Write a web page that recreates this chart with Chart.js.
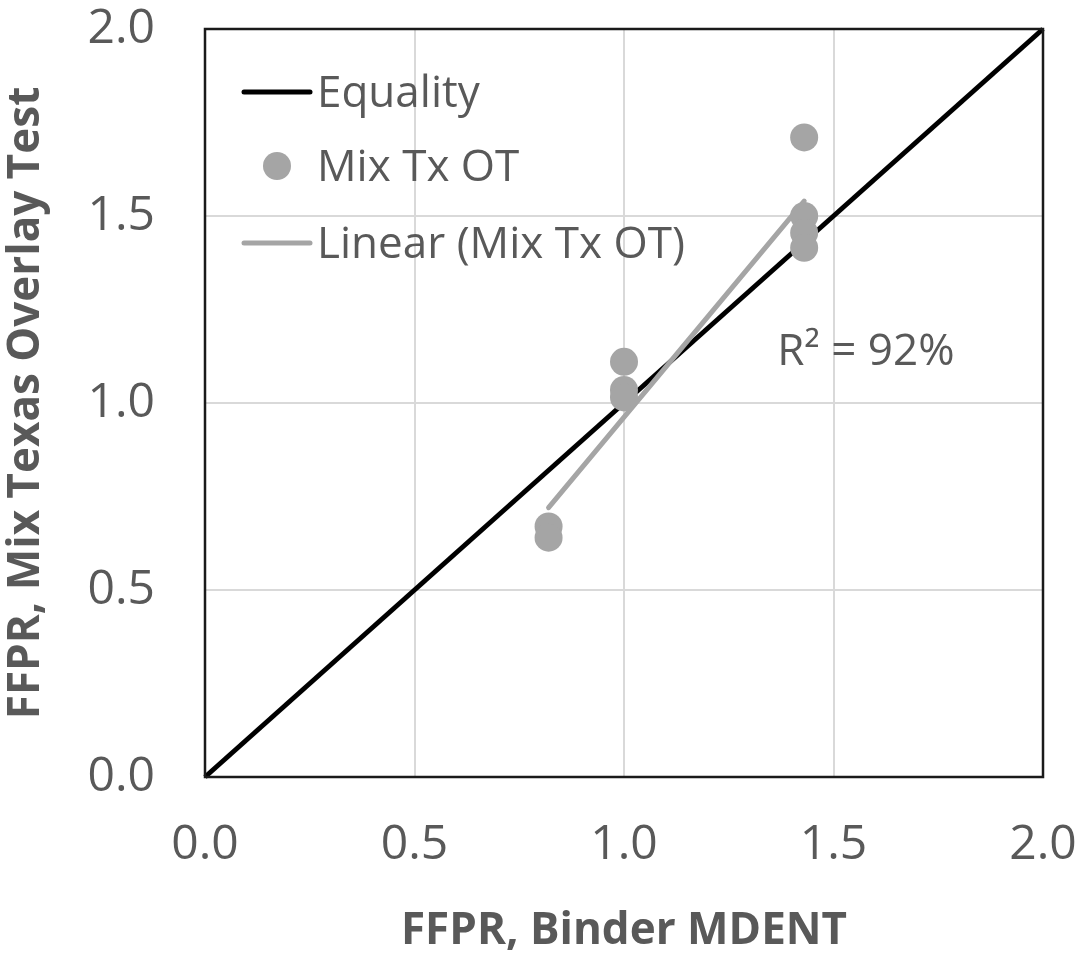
<!DOCTYPE html>
<html>
<head>
<meta charset="utf-8">
<script src="https://cdn.jsdelivr.net/npm/chart.js@4.4.1/dist/chart.umd.min.js"></script>
<style>
  body { margin: 0; background: #fff; }
  #contenedor { width: 1081px; height: 958px; }
</style>
</head>
<body>
<div id="contenedor"><canvas id="grafica"></canvas></div>
<script>
// Datos
const igualdadX = [0, 2];
const igualdadY = [0, 2];

const mezclaX = [0.82, 0.82, 1.0, 1.0, 1.0, 1.43, 1.43, 1.43, 1.43];
const mezclaY = [0.67, 0.64, 1.11, 1.035, 1.015, 1.71, 1.50, 1.455, 1.415];

const tendenciaX = [0.82, 1.43];
const tendenciaY = [0.72, 1.54];

const marcas = [0, 0.5, 1.0, 1.5, 2.0];
const textoR2 = 'R² = 92%';

const fuente = '"Open Sans", "Noto Sans", sans-serif';
const gris = '#595959';

function pares(xs, ys) {
  return xs.map((x, i) => ({ x: x, y: ys[i] }));
}

// marco negro alrededor del area del grafico
const marco = {
  id: 'marco',
  afterDatasetsDraw(chart) {
    const a = chart.chartArea;
    const ctx = chart.ctx;
    ctx.save();
    ctx.strokeStyle = '#1a1a1a';
    ctx.lineWidth = 2.5;
    ctx.strokeRect(a.left, a.top, a.right - a.left, a.bottom - a.top);
    ctx.restore();
  }
};

// leyenda dentro del grafico y texto del R2
const leyendaInterna = {
  id: 'leyendaInterna',
  afterDraw(chart) {
    const ctx = chart.ctx;
    const a = chart.chartArea;
    const ds = chart.data.datasets;
    ctx.save();
    ctx.font = '44px ' + fuente;
    ctx.fillStyle = gris;
    ctx.textBaseline = 'middle';
    ctx.textAlign = 'left';
    const filas = [a.top + 63, a.top + 137, a.top + 214];
    ds.forEach((d, i) => {
      const y = filas[i];
      if (d.showLine === false) {
        ctx.beginPath();
        ctx.fillStyle = d.backgroundColor;
        ctx.arc(a.left + 72, y, 14, 0, Math.PI * 2);
        ctx.fill();
      } else {
        ctx.beginPath();
        ctx.strokeStyle = d.borderColor;
        ctx.lineWidth = 5;
        ctx.lineCap = 'round';
        ctx.moveTo(a.left + 39, y);
        ctx.lineTo(a.left + 105, y);
        ctx.stroke();
      }
      ctx.fillStyle = gris;
      ctx.fillText(d.label, a.left + 112, y + 2);
    });
    const sx = chart.scales.x, sy = chart.scales.y;
    ctx.fillText(textoR2, sx.getPixelForValue(1.366), sy.getPixelForValue(1.135));
    ctx.restore();
  }
};

const ctx = document.getElementById('grafica').getContext('2d');
new Chart(ctx, {
  type: 'scatter',
  data: {
    datasets: [
      {
        label: 'Equality',
        data: pares(igualdadX, igualdadY),
        showLine: true,
        borderColor: '#000000',
        borderWidth: 5,
        pointRadius: 0,
        clip: 5,
        order: 3
      },
      {
        label: 'Mix Tx OT',
        data: pares(mezclaX, mezclaY),
        showLine: false,
        backgroundColor: '#a5a5a5',
        borderWidth: 0,
        pointRadius: 14,
        order: 2
      },
      {
        label: 'Linear (Mix Tx OT)',
        data: pares(tendenciaX, tendenciaY),
        showLine: true,
        borderColor: '#a5a5a5',
        borderWidth: 5,
        borderCapStyle: 'round',
        pointRadius: 0,
        order: 1
      }
    ]
  },
  options: {
    responsive: true,
    maintainAspectRatio: false,
    animation: false,
    layout: { padding: { top: 29, right: 38, left: 0, bottom: 0 } },
    plugins: {
      legend: { display: false },
      tooltip: { enabled: false }
    },
    scales: {
      x: {
        type: 'linear',
        min: 0,
        max: 2,
        afterBuildTicks: s => { s.ticks = marcas.map(v => ({ value: v })); },
        afterFit: s => { s.height = 181; s.paddingLeft = 0; s.paddingRight = 0; },
        grid: { color: '#d9d9d9', lineWidth: 2, drawTicks: false },
        border: { display: false },
        ticks: {
          padding: 40,
          color: gris,
          font: { family: fuente, size: 48 },
          callback: v => v.toFixed(1)
        },
        title: {
          display: true,
          text: 'FFPR, Binder MDENT',
          color: gris,
          font: { family: fuente, size: 44, weight: 'bold' },
          padding: 0
        }
      },
      y: {
        type: 'linear',
        min: 0,
        max: 2,
        afterBuildTicks: s => { s.ticks = marcas.map(v => ({ value: v })); },
        afterFit: s => { s.width = 205; s.paddingTop = 0; s.paddingBottom = 0; },
        grid: { color: '#d9d9d9', lineWidth: 2, drawTicks: false },
        border: { display: false },
        ticks: {
          padding: 50,
          color: gris,
          font: { family: fuente, size: 48 },
          callback: v => v.toFixed(1)
        },
        title: {
          display: true,
          text: 'FFPR, Mix Texas Overlay Test',
          color: gris,
          font: { family: fuente, size: 44, weight: 'bold' },
          padding: 0
        }
      }
    }
  },
  plugins: [marco, leyendaInterna]
});
</script>
</body>
</html>
